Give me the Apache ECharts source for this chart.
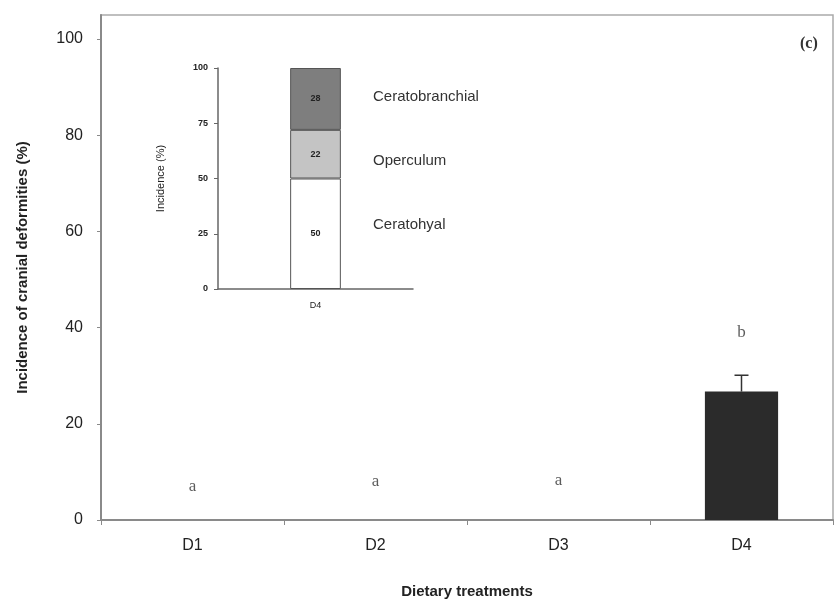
<!DOCTYPE html>
<html>
<head>
<meta charset="utf-8">
<script src="https://cdn.jsdelivr.net/npm/echarts@6/dist/echarts.min.js"></script>
<style>html,body{margin:0;padding:0;background:#fff;}#c{width:834px;height:606px;}</style>
</head>
<body>
<div id="c"></div>
<script>
// Main chart data
const categories = ['D1', 'D2', 'D3', 'D4'];
const incidence = [0, 0, 0, 26.7];
const errorSE = [0, 0, 0, 3.4];
const letters = ['a', 'a', 'a', 'b'];
const letterY = [6.9, 8.1, 8.3, 38.9];
const yTicks = [0, 20, 40, 60, 80, 100];

// Inset data
const insetCategories = ['D4'];
const insetNames = ['Ceratohyal', 'Operculum', 'Ceratobranchial'];
const insetValues = [50, 22, 28];
const insetColors = ['#ffffff', '#c4c4c4', '#7e7e7e'];

const chart = echarts.init(document.getElementById('c'), null, {renderer: 'canvas'});

const axisGray = '#8a8a8a';
const txt = '#222';

const insetSeries = insetNames.map((n, i) => ({
  name: n,
  type: 'bar',
  stack: 'inset',
  xAxisIndex: 1,
  yAxisIndex: 1,
  barWidth: '26%',
  data: [insetValues[i]],
  itemStyle: {color: insetColors[i], borderColor: '#555', borderWidth: 1},
  label: {show: true, position: 'inside', fontSize: 9, fontWeight: 'bold', color: '#222', fontFamily: 'Liberation Sans'},
  z: 5
}));

const option = {
  animation: false,
  backgroundColor: '#fff',
  grid: [
    {left: 101, right: 1, top: 15, bottom: 86, show: true, borderColor: '#aaa', borderWidth: 1.5},
    {left: 218, right: 421, top: 68, bottom: 317}
  ],
  legend: {
    data: ['Ceratobranchial', 'Operculum', 'Ceratohyal'],
    orient: 'vertical',
    left: 368, top: 84,
    itemWidth: 0, itemHeight: 14, itemGap: 49,
    icon: 'none',
    itemStyle: {color: 'transparent', borderWidth: 0, opacity: 0},
    selectedMode: false,
    textStyle: {fontSize: 15, color: '#333', fontFamily: 'Liberation Sans', padding: [0, 0, 0, -5]}
  },
  xAxis: [
    {
      type: 'category', gridIndex: 0, data: categories,
      boundaryGap: true,
      axisLine: {lineStyle: {color: axisGray, width: 2}},
      axisTick: {show: true, alignWithLabel: false, length: 5, lineStyle: {color: axisGray}},
      axisLabel: {fontSize: 16, color: txt, fontFamily: 'Liberation Sans', margin: 18},
      name: 'Dietary treatments', nameLocation: 'middle', nameGap: 64,
      nameTextStyle: {fontSize: 15, fontWeight: 'bold', color: txt, fontFamily: 'Liberation Sans'}
    },
    {
      type: 'category', gridIndex: 1, data: insetCategories,
      axisLine: {lineStyle: {color: '#666', width: 1.5}},
      axisTick: {show: false},
      axisLabel: {fontSize: 9, color: txt, fontFamily: 'Liberation Sans', margin: 12}
    }
  ],
  yAxis: [
    {
      type: 'value', gridIndex: 0, min: 0, max: 105, interval: 20,
      axisLine: {show: true, lineStyle: {color: axisGray, width: 2}},
      axisTick: {show: true, length: 4, lineStyle: {color: axisGray},
        customValues: yTicks},
      splitLine: {show: false},
      axisLabel: {fontSize: 16, color: txt, fontFamily: 'Liberation Sans', margin: 18,
        formatter: v => (yTicks.indexOf(v) >= 0 ? String(v) : '')},
      name: 'Incidence of cranial deformities (%)', nameLocation: 'middle', nameGap: 71,
      nameTextStyle: {fontSize: 15, fontWeight: 'bold', color: txt, fontFamily: 'Liberation Sans'}
    },
    {
      type: 'value', gridIndex: 1, min: 0, max: 100, interval: 25,
      axisLine: {show: true, lineStyle: {color: '#666', width: 1.5}},
      axisTick: {show: true, length: 4, lineStyle: {color: '#666'}},
      splitLine: {show: false},
      axisLabel: {fontSize: 9, fontWeight: 'bold', color: txt, fontFamily: 'Liberation Sans', margin: 10},
      name: 'Incidence (%)', nameLocation: 'middle', nameGap: 52,
      nameTextStyle: {fontSize: 11, color: txt, fontFamily: 'Liberation Sans'}
    }
  ],
  series: [
    {
      type: 'bar', xAxisIndex: 0, yAxisIndex: 0, data: incidence,
      barWidth: '40%',
      itemStyle: {color: '#2b2b2b'}
    },
    {
      type: 'custom', xAxisIndex: 0, yAxisIndex: 0,
      data: categories.map((c, i) => [i, incidence[i], errorSE[i]]),
      renderItem: function (params, api) {
        const se = api.value(2);
        if (!se) return null;
        const x = api.value(0), m = api.value(1);
        const p0 = api.coord([x, m]);
        const p1 = api.coord([x, m + se]);
        const w = 7;
        return {type: 'group', children: [
          {type: 'line', shape: {x1: p0[0], y1: p0[1], x2: p1[0], y2: p1[1]}, style: {stroke: '#333', lineWidth: 1.5}},
          {type: 'line', shape: {x1: p1[0] - w, y1: p1[1], x2: p1[0] + w, y2: p1[1]}, style: {stroke: '#333', lineWidth: 1.5}}
        ]};
      },
      z: 3
    },
    {
      type: 'scatter', xAxisIndex: 0, yAxisIndex: 0,
      data: categories.map((c, i) => [i, letterY[i], letters[i]]),
      symbolSize: 1,
      itemStyle: {color: 'transparent'},
      label: {show: true, position: 'inside', formatter: p => p.value[2],
        fontSize: 17, color: '#333', fontFamily: 'Liberation Serif'}
    }
  ].concat(insetSeries),
  graphic: [
    {type: 'text', left: 800, top: 36, style: {text: '(c)', fill: '#333', font: 'bold 16px "Liberation Serif"'}}
  ]
};

chart.setOption(option);
</script>
</body>
</html>
